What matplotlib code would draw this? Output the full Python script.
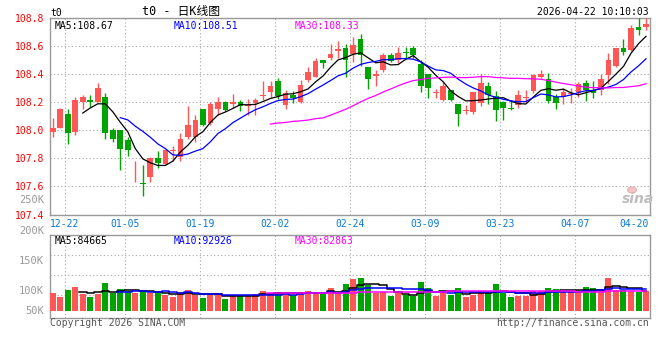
import numpy as np
import pandas as pd
import matplotlib
matplotlib.use("Agg")
import matplotlib.pyplot as plt
import matplotlib.transforms as mtransforms
from matplotlib.patches import Ellipse

# daily K data for t0, 80 sessions (index 0 = 12-18 ... index 79 = 04-22)
opens = [107.99, 108.02, 108.12, 107.99, 108.20, 108.22, 108.20, 108.24, 108.00, 108.00,
         107.93, 107.70, 107.625, 107.67, 107.805, 107.76, 107.855, 107.81, 107.95, 107.95,
         108.15, 108.05, 108.15, 108.202, 108.186, 108.202, 108.171, 108.195, 108.248, 108.274,
         108.35, 108.179, 108.25, 108.202, 108.362, 108.38, 108.50, 108.517, 108.564, 108.59,
         108.548, 108.65, 108.452, 108.386, 108.433, 108.536, 108.50, 108.553, 108.59, 108.476,
         108.40, 108.265, 108.214, 108.286, 108.186, 108.14, 108.131, 108.195, 108.314, 108.243,
         108.202, 108.162, 108.179, 108.232, 108.281, 108.381, 108.369, 108.238, 108.24, 108.258,
         108.274, 108.338, 108.29, 108.29, 108.398, 108.46, 108.588, 108.576, 108.738, 108.738]
highs = [108.09, 108.16, 108.15, 108.24, 108.255, 108.255, 108.34, 108.27, 108.02, 108.00,
         107.95, 107.78, 107.75, 107.81, 107.85, 107.87, 107.89, 107.985, 108.175, 108.11,
         108.15, 108.20, 108.24, 108.21, 108.257, 108.219, 108.226, 108.233, 108.35, 108.35,
         108.376, 108.286, 108.28, 108.36, 108.452, 108.517, 108.505, 108.614, 108.636, 108.614,
         108.667, 108.686, 108.452, 108.429, 108.55, 108.55, 108.595, 108.595, 108.60, 108.50,
         108.40, 108.298, 108.345, 108.29, 108.186, 108.179, 108.274, 108.405, 108.345, 108.28,
         108.21, 108.219, 108.286, 108.286, 108.40, 108.433, 108.41, 108.26, 108.30, 108.30,
         108.345, 108.362, 108.35, 108.40, 108.552, 108.59, 108.652, 108.75, 108.802, 108.80]
lows = [107.95, 108.015, 107.90, 107.97, 108.15, 108.17, 108.20, 107.94, 107.92, 107.72,
        107.82, 107.635, 107.53, 107.63, 107.73, 107.76, 107.78, 107.78, 107.94, 107.92,
        108.035, 108.04, 108.11, 108.14, 108.162, 108.138, 108.107, 108.107, 108.214, 108.24,
        108.226, 108.153, 108.195, 108.195, 108.345, 108.38, 108.443, 108.502, 108.52, 108.38,
        108.488, 108.457, 108.293, 108.314, 108.417, 108.488, 108.48, 108.507, 108.52, 108.274,
        108.233, 108.233, 108.21, 108.21, 108.029, 108.119, 108.12, 108.171, 108.19, 108.067,
        108.076, 108.143, 108.16, 108.195, 108.267, 108.376, 108.195, 108.152, 108.19, 108.193,
        108.24, 108.21, 108.233, 108.25, 108.333, 108.45, 108.536, 108.57, 108.679, 108.719]
closes = [108.02, 108.155, 107.985, 108.22, 108.24, 108.20, 108.305, 107.98, 107.94, 107.865,
          107.86, 107.705, 107.615, 107.80, 107.77, 107.86, 107.86, 107.94, 108.04, 108.075,
          108.04, 108.19, 108.205, 108.148, 108.202, 108.176, 108.183, 108.219, 108.25, 108.314,
          108.243, 108.267, 108.233, 108.321, 108.417, 108.493, 108.48, 108.543, 108.583, 108.50,
          108.607, 108.536, 108.364, 108.405, 108.536, 108.495, 108.55, 108.55, 108.538, 108.314,
          108.30, 108.267, 108.314, 108.214, 108.114, 108.145, 108.274, 108.338, 108.25, 108.143,
          108.162, 108.152, 108.25, 108.235, 108.393, 108.40, 108.21, 108.195, 108.275, 108.262,
          108.329, 108.286, 108.267, 108.369, 108.50, 108.588, 108.56, 108.733, 108.714, 108.762]
volumes = [75500, 58700, 88000, 100600, 71200, 58700, 71200, 117400, 74000, 92200,
           83800, 76800, 88000, 75500, 74000, 67000, 60000, 79600, 88000, 68500,
           55900, 67000, 75500, 50200, 67000, 61500, 61500, 72000, 83800, 71200,
           79600, 75500, 68500, 79600, 83800, 79600, 69800, 96400, 69800, 113100,
           134100, 138300, 110400, 74000, 79600, 64200, 74000, 65700, 61500, 121500,
           96400, 62900, 79600, 65700, 96400, 58700, 68500, 83800, 75500, 113100,
           75500, 58700, 62900, 62900, 83800, 83800, 96400, 92200, 82400, 79600,
           79600, 100600, 96400, 92200, 138300, 88000, 88000, 83800, 79600, 83800]

tick_idx = [2, 10, 20, 30, 40, 50, 60, 70, 77]
tick_labels = ["12-22", "01-05", "01-19", "02-02", "02-24", "03-09", "03-23", "04-07", "04-20"]
price_ticks = [107.4, 107.6, 107.8, 108.0, 108.2, 108.4, 108.6, 108.8]
vol_labels = ["50K", "100K", "150K", "200K", "250K"]
vol_label_vals = [0, 85000, 211000, 336000, 465000]
vol_grid = [65800, 149600, 233400]

RED = "#ff5656"
GREEN = "#00a400"
GRID = "#a8a8a8"
FRAME = "#9a9a9a"
MONO = "DejaVu Sans Mono"
plt.rcParams["font.family"] = [MONO, "Noto Sans CJK SC"]
plt.rcParams["font.size"] = 7

df = pd.DataFrame({"open": opens, "high": highs, "low": lows, "close": closes, "vol": volumes})
x = np.arange(len(df))
up = df["close"] >= df["open"]
colors = np.where(up, RED, GREEN)

fig = plt.figure(figsize=(6.6, 3.6), dpi=100)
W, H = 660.0, 360.0
ax = fig.add_axes([50 / W, 1 - 214.5 / H, 600 / W, (214.5 - 18.3) / H])
axv = fig.add_axes([50 / W, 1 - 318 / H, 600 / W, (318 - 234.7) / H])

xmin, xmax = -0.36, 79.53
dot = (0, (1, 2.2))
grid_x = [i - 0.4 for i in tick_idx]

# ---- price panel
body_lo = np.minimum(df["open"], df["close"])
body_h = np.maximum((df["close"] - df["open"]).abs(), 0.006)
ax.vlines(x, df["low"], df["high"], colors=colors, linewidth=1.0, zorder=3)
ax.bar(x, body_h, bottom=body_lo, width=0.76, color=colors, linewidth=0, zorder=4)

for n, c in [(5, "black"), (10, "#0000ff"), (30, "#ff00ff")]:
    ax.plot(x, df["close"].rolling(n).mean(), color=c, linewidth=0.9, zorder=5)

ax.set_xlim(xmin, xmax)
ax.set_ylim(107.4, 108.8)
ax.set_yticks(price_ticks)
ax.set_yticklabels(["%.1f" % p for p in price_ticks], color="#ff0000")
ax.set_xticks(grid_x)
ax.set_xticklabels(tick_labels, color="#0a78d8")
ax.tick_params(length=0, pad=3)
ax.tick_params(axis="y", pad=4)
ax.grid(axis="y", color=GRID, linestyle=dot, linewidth=0.8, zorder=0)
for g in grid_x[:-1]:
    ax.axvline(g, color=GRID, linestyle=dot, linewidth=0.8, zorder=0)
last = ax.get_xticklabels()[-1]
last.set_transform(last.get_transform() + mtransforms.ScaledTranslation(6 / 100, 0, fig.dpi_scale_trans))

ax.text(5 / 600, 0.985, "MA5:108.67", transform=ax.transAxes, color="black", va="top")
ax.text(124 / 600, 0.985, "MA10:108.51", transform=ax.transAxes, color="#0000ff", va="top")
ax.text(245 / 600, 0.985, "MA30:108.33", transform=ax.transAxes, color="#ff00ff", va="top")

# ---- volume panel
axv.bar(x, df["vol"], width=0.8, color=colors, linewidth=0, zorder=3)
for n, c in [(5, "black"), (10, "#0000ff"), (30, "#ff00ff")]:
    axv.plot(x, df["vol"].rolling(n).mean(), color=c, linewidth=1.1,
             drawstyle="steps-mid", zorder=4)
axv.set_xlim(xmin, xmax)
axv.set_ylim(-29300, 319700)
axv.set_xticks([])
axv.set_yticks([])
for g in vol_grid:
    axv.axhline(g, color=GRID, linestyle=dot, linewidth=0.8, zorder=0)
for g in grid_x[:-1]:
    axv.axvline(g, color=GRID, linestyle=dot, linewidth=0.8, zorder=0)
ytr = mtransforms.blended_transform_factory(axv.transAxes, axv.transData)
for lab, v in zip(vol_labels, vol_label_vals):
    axv.text(-6 / 600, v, lab, transform=ytr, ha="right", va="center",
             color="#9a9a9a", fontsize=7.5, clip_on=False)
axv.text(5 / 600, 0.98, "MA5:84665", transform=axv.transAxes, color="black", va="top")
axv.text(124 / 600, 0.98, "MA10:92926", transform=axv.transAxes, color="#0000ff", va="top")
axv.text(245 / 600, 0.98, "MA30:82863", transform=axv.transAxes, color="#ff00ff", va="top")

for a in (ax, axv):
    for s in a.spines.values():
        s.set_color(FRAME)
        s.set_linewidth(1.0)

# ---- header / footer
fig.text(50 / W, 1 - 12.5 / H, "t0", color="black", va="center")
fig.text(181 / W, 1 - 11 / H, "t0 - 日K线图", color="black", va="center", ha="center",
         fontsize=8.5, family=[MONO, "Noto Sans CJK SC"])
fig.text(649 / W, 1 - 12 / H, "2026-04-22 10:10:03", color="black", va="center", ha="right")
fig.text(50 / W, 1 - 323.5 / H, "Copyright 2026 SINA.COM", color="#555555", va="center")
fig.text(649 / W, 1 - 323.5 / H, "http://finance.sina.com.cn", color="#555555",
         va="center", ha="right")

# sina watermark
fig.patches.append(Ellipse((632 / W, 1 - 190 / H), 9 / W, 6 / H, transform=fig.transFigure,
                           facecolor="#f6c4c4", edgecolor="#e8a0a0", linewidth=0.6))
fig.text(638 / W, 1 - 199 / H, "sina", color="#bdbdbd", fontsize=10, style="italic",
         weight="bold", ha="center", va="center", family="DejaVu Sans")

fig.savefig("out.png", dpi=100)
